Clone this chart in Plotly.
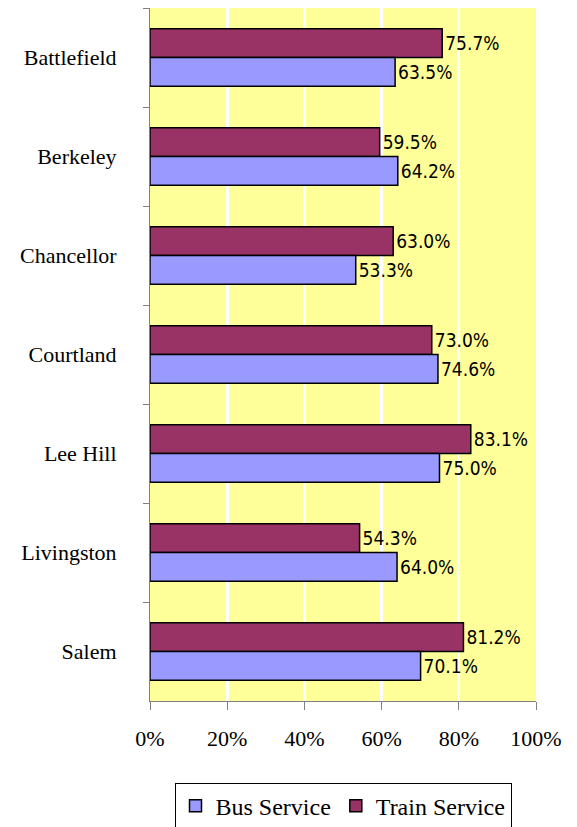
import plotly.graph_objects as go

categories = ["Battlefield", "Berkeley", "Chancellor", "Courtland", "Lee Hill", "Livingston", "Salem"]
bus_service = [0.635, 0.642, 0.533, 0.746, 0.750, 0.640, 0.701]
train_service = [0.757, 0.595, 0.630, 0.730, 0.831, 0.543, 0.812]
x_ticks = [0, 0.2, 0.4, 0.6, 0.8, 1.0]
x_tick_labels = ["0%", "20%", "40%", "60%", "80%", "100%"]

label_font = dict(family="Liberation Sans Narrow, Arial Narrow, DejaVu Sans Condensed, sans-serif", size=19, color="black")
serif = "Liberation Serif, Times New Roman, serif"

fig = go.Figure()
fig.add_trace(go.Bar(
    y=categories, x=train_service, name="Train Service", orientation="h",
    marker=dict(color="#993366", line=dict(color="black", width=1.5)),
    text=[f"{v*100:.1f}%" for v in train_service], textposition="outside",
    textfont=label_font, cliponaxis=False,
))
fig.add_trace(go.Bar(
    y=categories, x=bus_service, name="Bus Service", orientation="h",
    marker=dict(color="#9999FF", line=dict(color="black", width=1.5)),
    text=[f"{v*100:.1f}%" for v in bus_service], textposition="outside",
    textfont=label_font, cliponaxis=False,
))

fig.update_layout(
    width=577, height=827,
    margin=dict(l=142, r=49, t=0, b=134),
    barmode="group", bargap=0.42, bargroupgap=0,
    plot_bgcolor="#FFFF99", paper_bgcolor="white",
    font=dict(family=serif, size=22, color="black"),
    showlegend=True,
    legend=dict(
        orientation="h", x=0.5, xanchor="center", y=-0.118, yanchor="top",
        traceorder="reversed", bordercolor="black", borderwidth=1,
        font=dict(family=serif, size=24), itemwidth=30,
    ),
    xaxis=dict(
        range=[0, 1], tickvals=x_ticks, ticktext=x_tick_labels,
        showgrid=True, gridcolor="white", gridwidth=3,
        showline=True, linecolor="#808080", linewidth=1,
        ticks="outside", ticklen=8, tickcolor="#808080",
        ticklabelstandoff=10, zeroline=False,
        tickfont=dict(family=serif, size=22),
    ),
    yaxis=dict(
        autorange="reversed", showgrid=False,
        showline=True, linecolor="#808080", linewidth=1,
        ticks="outside", ticklen=6, tickcolor="#808080", tickson="boundaries",
        ticklabelstandoff=28,
        tickfont=dict(family=serif, size=22),
    ),
)

fig.write_html("out.html")
